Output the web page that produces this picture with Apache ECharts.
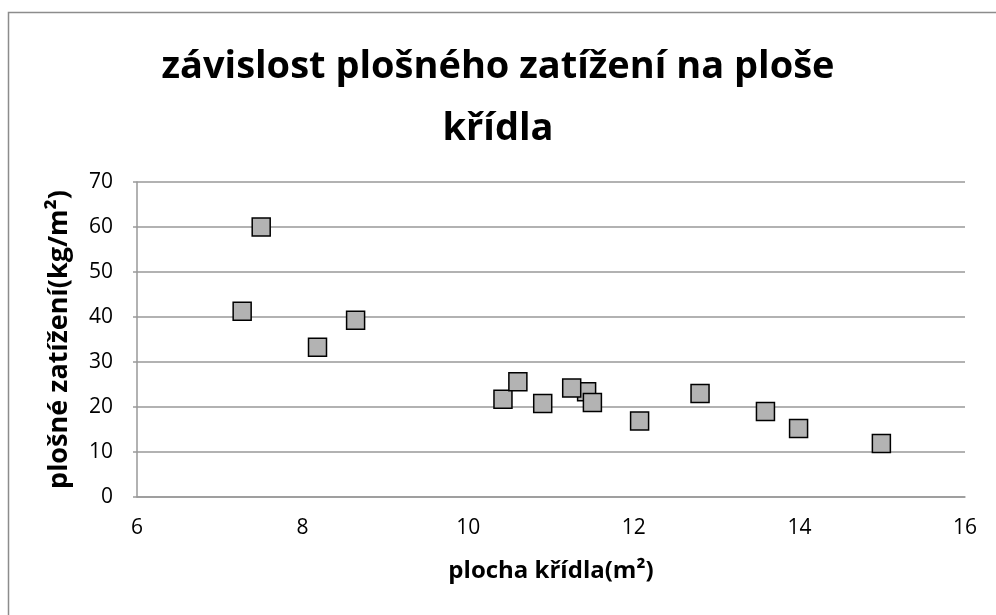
<!DOCTYPE html>
<html>
<head>
<meta charset="utf-8">
<script src="https://cdn.jsdelivr.net/npm/echarts@6/dist/echarts.min.js"></script>
<style>
html, body { margin: 0; padding: 0; background: #fff; }
#chart { width: 996px; height: 615px; }
</style>
</head>
<body>
<div id="chart"></div>
<script>
// plocha křídla (m2) a plošné zatížení (kg/m2)
var plocha = [7.27, 7.50, 8.18, 8.64, 10.42, 10.60, 10.90, 11.43, 11.25, 11.50, 12.07, 12.80, 13.59, 13.99, 14.99];
var zatizeni = [41.3, 60.0, 33.3, 39.3, 21.7, 25.6, 20.8, 23.4, 24.2, 21.0, 16.9, 23.0, 19.0, 15.2, 11.9];
var xTicks = [6, 8, 10, 12, 14, 16];
var yTicks = [0, 10, 20, 30, 40, 50, 60, 70];

var font = '"Open Sans", "Noto Sans", sans-serif';
var body = [];
for (var i = 0; i < plocha.length; i++) {
    body.push([plocha[i], zatizeni[i]]);
}

var chart = echarts.init(document.getElementById('chart'));
var option = {
    backgroundColor: '#fff',
    animation: false,
    title: {
        text: 'závislost plošného zatížení na ploše\nkřídla',
        left: 'center',
        top: 31,
        textStyle: {
            fontFamily: font,
            fontWeight: 'bold',
            fontSize: 38,
            lineHeight: 62,
            color: '#000'
        }
    },
    graphic: [{
        type: 'rect',
        shape: { x: 8.5, y: 12.5, width: 1000, height: 620 },
        style: { fill: 'none', stroke: '#8c8c8c', lineWidth: 1.5 },
        silent: true
    }],
    grid: { left: 137, right: 31, top: 182, bottom: 118 },
    xAxis: {
        type: 'value',
        min: xTicks[0],
        max: xTicks[xTicks.length - 1],
        interval: 2,
        name: 'plocha křídla(m²)',
        nameLocation: 'middle',
        nameGap: 62,
        nameTextStyle: { fontFamily: font, fontWeight: 'bold', fontSize: 24, color: '#000' },
        axisLine: { show: true, onZero: false, lineStyle: { color: '#999', width: 1.5 } },
        axisTick: { show: false },
        axisLabel: { fontFamily: font, fontSize: 21, color: '#000', margin: 21 },
        splitLine: { show: false }
    },
    yAxis: {
        type: 'value',
        min: yTicks[0],
        max: yTicks[yTicks.length - 1],
        interval: 10,
        name: 'plošné zatížení(kg/m²)',
        nameLocation: 'middle',
        nameGap: 64,
        nameTextStyle: { fontFamily: font, fontWeight: 'bold', fontSize: 27, color: '#000' },
        axisLine: { show: true, lineStyle: { color: '#999', width: 1.5 } },
        axisTick: { show: true, length: 4, lineStyle: { color: '#999', width: 1.5 } },
        axisLabel: { fontFamily: font, fontSize: 21, color: '#000', margin: 24 },
        splitLine: { show: true, lineStyle: { color: '#999', width: 1.5 } }
    },
    series: [{
        type: 'scatter',
        data: body,
        symbol: 'rect',
        symbolSize: 18,
        itemStyle: {
            color: '#b3b3b3',
            borderColor: '#000',
            borderWidth: 1.5,
            opacity: 1
        }
    }]
};
chart.setOption(option);
</script>
</body>
</html>
